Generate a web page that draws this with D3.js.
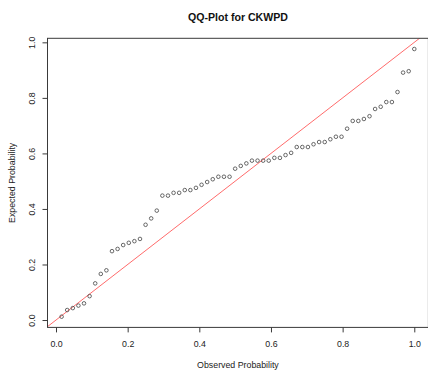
<!DOCTYPE html>
<html>
<head>
<meta charset="utf-8">
<script src="https://cdn.jsdelivr.net/npm/d3@7"></script>
<style>
  html, body { margin: 0; padding: 0; background: #fff; }
  svg { display: block; font-family: "Liberation Sans", Arial, sans-serif; }
</style>
</head>
<body>
<svg id="chart" width="428" height="378"></svg>
<script>
// Observed (empirical) probability of each sorted case
const observed = [
  0.015625, 0.03125, 0.046875, 0.0625, 0.078125, 0.09375, 0.109375, 0.125,
  0.140625, 0.15625, 0.171875, 0.1875, 0.203125, 0.21875, 0.234375, 0.25,
  0.265625, 0.28125, 0.296875, 0.3125, 0.328125, 0.34375, 0.359375, 0.375,
  0.390625, 0.40625, 0.421875, 0.4375, 0.453125, 0.46875, 0.484375, 0.5,
  0.515625, 0.53125, 0.546875, 0.5625, 0.578125, 0.59375, 0.609375, 0.625,
  0.640625, 0.65625, 0.671875, 0.6875, 0.703125, 0.71875, 0.734375, 0.75,
  0.765625, 0.78125, 0.796875, 0.8125, 0.828125, 0.84375, 0.859375, 0.875,
  0.890625, 0.90625, 0.921875, 0.9375, 0.953125, 0.96875, 0.984375, 1.0
];
// Expected probability under the fitted distribution
const expected = [
  0.012, 0.036, 0.043, 0.052, 0.060, 0.086, 0.132, 0.166,
  0.179, 0.248, 0.256, 0.270, 0.278, 0.284, 0.292, 0.343,
  0.366, 0.394, 0.448, 0.448, 0.458, 0.458, 0.468, 0.468,
  0.476, 0.487, 0.497, 0.507, 0.516, 0.516, 0.516, 0.545,
  0.555, 0.564, 0.574, 0.574, 0.574, 0.574, 0.584, 0.584,
  0.594, 0.602, 0.623, 0.623, 0.623, 0.633, 0.641, 0.641,
  0.651, 0.660, 0.660, 0.689, 0.717, 0.717, 0.724, 0.734,
  0.760, 0.768, 0.785, 0.785, 0.821, 0.891, 0.896, 0.976
];
const tickValues = [0, 0.2, 0.4, 0.6, 0.8, 1.0];
const titleText = "QQ-Plot for CKWPD";
const xLabel = "Observed Probability";
const yLabel = "Expected Probability";

const svg = d3.select("#chart");
const plot = { left: 47.5, right: 428.4, top: 38.3, bottom: 327.4 };
const ink = "#3a3a3a";

// Axis ranges padded by 4% on each side of the data
function padded(vals) {
  const [lo, hi] = d3.extent(vals);
  const p = (hi - lo) * 0.04;
  return [lo - p, hi + p];
}
const x = d3.scaleLinear().domain(padded(observed)).range([plot.left, plot.right]);
const y = d3.scaleLinear().domain(padded(expected)).range([plot.bottom, plot.top]);

const points = observed.map((o, i) => ({ o, e: expected[i] }));

svg.append("rect").attr("width", 428).attr("height", 378).attr("fill", "#fff");

svg.append("clipPath").attr("id", "plotClip")
  .append("rect")
  .attr("x", plot.left).attr("y", plot.top)
  .attr("width", plot.right - plot.left).attr("height", plot.bottom - plot.top);

// Reference line y = x
const lo = Math.min(x.domain()[0], y.domain()[0]) - 0.1;
const hi = Math.max(x.domain()[1], y.domain()[1]) + 0.1;
svg.append("line")
  .attr("clip-path", "url(#plotClip)")
  .attr("x1", x(lo)).attr("y1", y(lo))
  .attr("x2", x(hi)).attr("y2", y(hi))
  .attr("stroke", "#ff5a5a").attr("stroke-width", 0.9);

// Points
svg.append("g").selectAll("circle").data(points).join("circle")
  .attr("cx", d => x(d.o)).attr("cy", d => y(d.e))
  .attr("r", 1.8)
  .attr("fill", "none").attr("stroke", "#444").attr("stroke-width", 0.8);

// Box
svg.append("rect")
  .attr("x", plot.left).attr("y", plot.top)
  .attr("width", plot.right - plot.left).attr("height", plot.bottom - plot.top)
  .attr("fill", "none").attr("stroke", ink).attr("stroke-width", 1);

// X axis
const xAxis = svg.append("g").attr("transform", `translate(0,${plot.bottom})`)
  .call(d3.axisBottom(x).tickValues(tickValues).tickFormat(d3.format(".1f")).tickSize(5).tickSizeOuter(0));
xAxis.select(".domain").remove();
xAxis.selectAll("line").attr("stroke", ink);
xAxis.selectAll("text")
  .attr("y", 17).attr("dy", "0.35em")
  .attr("fill", "#222").attr("font-size", 8.8).attr("font-family", "Liberation Sans, Arial, sans-serif");

// Y axis (labels parallel to the axis)
const yAxis = svg.append("g").attr("transform", `translate(${plot.left},0)`)
  .call(d3.axisLeft(y).tickValues(tickValues).tickFormat(d3.format(".1f")).tickSize(5).tickSizeOuter(0));
yAxis.select(".domain").remove();
yAxis.selectAll("line").attr("stroke", ink);
yAxis.selectAll("text")
  .attr("x", 0).attr("y", 0).attr("dy", "0.35em")
  .attr("text-anchor", "middle")
  .attr("transform", "translate(-15.5,0) rotate(-90)")
  .attr("fill", "#222").attr("font-size", 8.8).attr("font-family", "Liberation Sans, Arial, sans-serif");

// Title and axis titles
const cx = (plot.left + plot.right) / 2;
const cy = (plot.top + plot.bottom) / 2;
svg.append("text")
  .attr("x", cx).attr("y", 17).attr("dy", "0.35em")
  .attr("text-anchor", "middle").attr("font-weight", "bold")
  .attr("font-size", 10.6).attr("fill", "#111")
  .text(titleText);
svg.append("text")
  .attr("x", cx).attr("y", 365).attr("dy", "0.35em")
  .attr("text-anchor", "middle").attr("font-size", 8.8).attr("fill", "#222")
  .text(xLabel);
svg.append("text")
  .attr("transform", `translate(12,${cy}) rotate(-90)`)
  .attr("dy", "0.35em")
  .attr("text-anchor", "middle").attr("font-size", 8.8).attr("fill", "#222")
  .text(yLabel);
</script>
</body>
</html>
